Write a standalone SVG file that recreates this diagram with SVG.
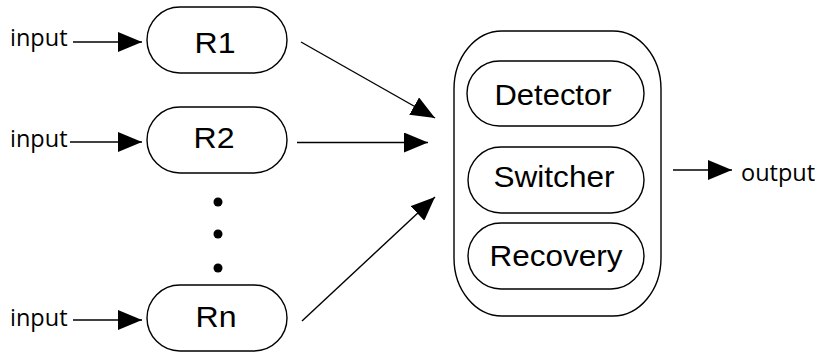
<svg xmlns="http://www.w3.org/2000/svg" width="819" height="354" viewBox="0 0 819 354">
<defs>
<marker id="ah" markerWidth="24" markerHeight="20" refX="24" refY="10" orient="auto" markerUnits="userSpaceOnUse">
<path d="M0,0 L24,10 L0,20 Z" fill="#000"/>
</marker>
<style>
.box{fill:#fff;stroke:#000;stroke-width:1.4}
.lbl{font-family:"Liberation Sans",Arial,sans-serif;font-size:30px;fill:#000;text-anchor:middle}
.io{font-family:"Open Sans","Noto Sans",sans-serif;font-size:23.5px;fill:#000}
.con{stroke:#000;stroke-width:1.4;fill:none;marker-end:url(#ah)}
.dot{fill:#000}
</style>
</defs>
<rect width="819" height="354" fill="#fff"/>
<g id="R1">
<rect class="box" x="147" y="7" width="140" height="66" rx="33"/>
<text class="lbl" x="215" y="53" textLength="41" lengthAdjust="spacingAndGlyphs">R1</text>
</g>
<g id="R2">
<rect class="box" x="147" y="107" width="140" height="66" rx="33"/>
<text class="lbl" x="214" y="148" textLength="41" lengthAdjust="spacingAndGlyphs">R2</text>
</g>
<g id="Rn">
<rect class="box" x="147" y="285" width="140" height="66" rx="33"/>
<text class="lbl" x="216" y="327" textLength="41" lengthAdjust="spacingAndGlyphs">Rn</text>
</g>
<g id="dots">
<circle class="dot" cx="218" cy="202" r="4.5"/>
<circle class="dot" cx="218" cy="234" r="4.5"/>
<circle class="dot" cx="218" cy="268" r="4.5"/>
</g>
<g id="container">
<rect class="box" x="454" y="31" width="207" height="285" rx="48" ry="58"/>
</g>
<g id="Detector">
<rect class="box" x="467" y="61" width="177" height="65" rx="32.5"/>
<text class="lbl" x="553" y="105" textLength="117" lengthAdjust="spacingAndGlyphs">Detector</text>
</g>
<g id="Switcher">
<rect class="box" x="468" y="147" width="176" height="66" rx="33"/>
<text class="lbl" x="554" y="187" textLength="121" lengthAdjust="spacingAndGlyphs">Switcher</text>
</g>
<g id="Recovery">
<rect class="box" x="468" y="223" width="176" height="66" rx="33"/>
<text class="lbl" x="556" y="266" textLength="133" lengthAdjust="spacingAndGlyphs">Recovery</text>
</g>
<g id="io-labels">
<text class="io" x="10" y="46">input</text>
<text class="io" x="10" y="147">input</text>
<text class="io" x="10" y="326">input</text>
<text class="io" x="741" y="181">output</text>
</g>
<g id="connectors">
<line class="con" x1="73" y1="42" x2="142" y2="42"/>
<line class="con" x1="70" y1="142" x2="142" y2="142"/>
<line class="con" x1="73" y1="320" x2="142" y2="320"/>
<line class="con" x1="301" y1="42" x2="435" y2="118"/>
<line class="con" x1="297" y1="142.5" x2="428" y2="142.5"/>
<line class="con" x1="302" y1="321" x2="435" y2="197"/>
<line class="con" x1="673" y1="170" x2="732" y2="170"/>
</g>
</svg>
